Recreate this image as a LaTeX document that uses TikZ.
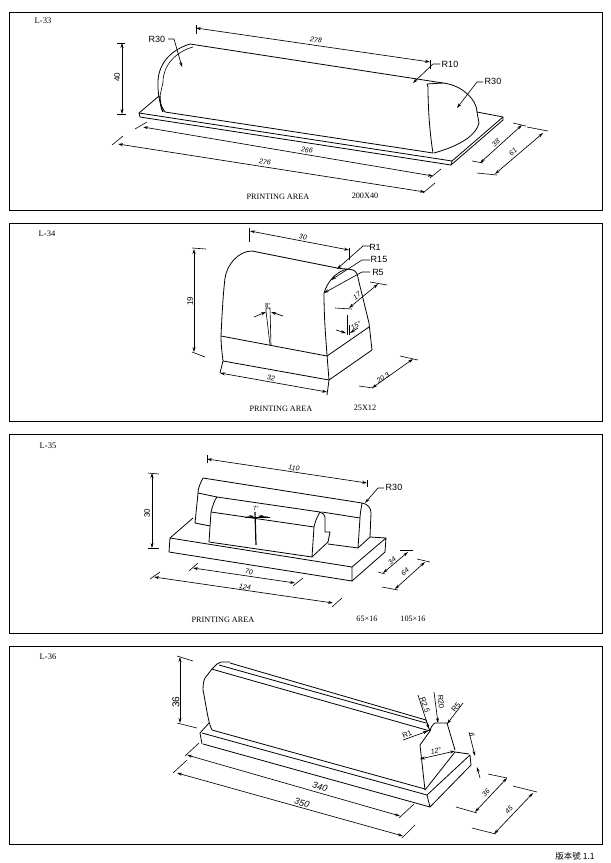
\documentclass[tikz,border=0pt]{standalone}
\usepackage{fontspec}
\setmainfont{Liberation Sans}
\newfontfamily\serifcad{Liberation Serif}
\newfontfamily\cjkfont{Noto Sans CJK TC}
\usetikzlibrary{arrows.meta}
\tikzset{
  part/.style={line width=0.8pt,line join=round},
  thin part/.style={line width=0.6pt},
  dimline/.style={line width=0.65pt,{Stealth[length=5pt,width=3pt]}-{Stealth[length=5pt,width=3pt]}},
  leader/.style={line width=0.65pt,-{Stealth[length=5pt,width=3pt]}},
  tick/.style={line width=0.6pt},
  frame/.style={line width=0.8pt},
  rlabel/.style={inner sep=0pt,font=\fontsize{9}{9}\selectfont},
  smallr/.style={inner sep=0pt,font=\fontsize{7.5}{7.5}\selectfont},
  dimtext/.style={inner sep=0.5pt,font=\itshape\fontsize{7}{7}\selectfont},
  bigdim/.style={inner sep=0.5pt,font=\itshape\fontsize{9}{9}\selectfont},
  angletext/.style={inner sep=0pt,font=\fontsize{6}{6}\selectfont},
  vtext/.style={inner sep=0.5pt,font=\fontsize{8}{8}\selectfont},
  caption/.style={inner sep=0pt,font=\serifcad\fontsize{8.2}{8.2}\selectfont},
  panel/.style={inner sep=0pt,font=\serifcad\fontsize{8.5}{8.5}\selectfont}
}
\begin{document}
\begin{tikzpicture}[x=1pt,y=-1pt]
\useasboundingbox[fill=white] (0,0) rectangle (611,863);
% frames
\draw[frame] (9,12) rectangle (602,210);
\draw[frame] (9,223) rectangle (602,421);
\draw[frame] (9,434) rectangle (602,633);
\draw[frame] (9,646) rectangle (602,844);
\node[panel] (p1) at (43,21) {L-33};
\node[panel] (p2) at (47,234) {L-34};
\node[panel] (p3) at (48,446) {L-35};
\node[panel] (p4) at (48,657) {L-36};

%% ---------- L-33 ----------
\draw[part] (190,44) -- (443,83);
\draw[part] (190,44) .. controls (170,50) and (157,65) .. (158,85) .. controls (158,97) and (160,105) .. (165,112);
\draw[thin part] (193,47) .. controls (175,52) and (163,66) .. (163,82) -- (160,96);
\draw[line width=1.2pt] (160,96) .. controls (160,103) and (161,108) .. (163,112);
\draw[part] (165,112) -- (433,153);
\draw[part] (139,113) -- (452,161);
\draw[part] (140,117) -- (451,165);
\draw[part] (139,113) -- (140,117);
\draw[part] (139,113) -- (159,96);
\draw[part] (452,161) -- (451,165);
\draw[part] (452,161) -- (503,117) -- (503,120) -- (451,165);
\draw[part] (477,112) -- (503,117);
\draw[part] (427,84) -- (428,87) .. controls (428,110) and (430,135) .. (433,153);
\draw[part] (427,84) -- (443,83) .. controls (462,85) and (477,100) .. (477,112) -- (479,123) .. controls (475,138) and (455,147) .. (434,153);
% dims
\draw[dimline] (196,28) -- (430,62);
\draw[tick] (196,25) -- (196,34);
\draw[tick] (430,60) -- (430,69);
\node[dimtext,rotate=-8] (d278) at (316,40) {278};
\draw[leader] (440,64) -- (433,64) -- (413,83);
\node[rlabel] (r10) at (450,64) {R10};
\draw[leader] (483,82) -- (477,82) -- (457,108);
\node[rlabel] (r30b) at (493,81) {R30};
\draw[leader] (168,39) -- (174,39) -- (182,67);
\node[rlabel] (r30a) at (157,39) {R30};
\draw[dimline] (122,43) -- (122,114);
\draw[tick] (117,43) -- (125,43);
\draw[tick] (117,114) -- (126,114);
\node[vtext,rotate=90] (d40) at (117,77) {40};
\draw[dimline] (143,127) -- (433,176);
\draw[tick] (135,129) -- (147,122);
\draw[tick] (430,178) -- (441,169);
\node[dimtext,rotate=-9] (d266) at (307,150) {266};
\draw[dimline] (118,144) -- (425,192);
\draw[tick] (112,145) -- (123,136);
\draw[tick] (423,193) -- (435,183);
\node[dimtext,rotate=-9] (d276) at (265,162) {276};
\draw[dimline] (522,125) -- (480,163);
\draw[tick] (513,123) -- (526,126);
\draw[tick] (472,161) -- (483,163);
\node[dimtext,rotate=42] (d38) at (496,143) {38};
\draw[dimline] (543,133) -- (495,174);
\draw[tick] (527,127) -- (548,131);
\draw[tick] (477,173) -- (497,175);
\node[dimtext,rotate=42] (d61) at (513,152) {61};
\node[caption] (c1) at (278,197) {PRINTING AREA};
\node[caption] (c1b) at (365,196) {200X40};

%% ---------- L-34 ----------
\draw[part] (221,336) .. controls (222,315) and (223,295) .. (225,278) .. controls (227,265) and (238,251) .. (252,251) -- (337,268);
\draw[part] (221,336) .. controls (221,345) and (222,352) .. (223,361) -- (220,373);
\draw[part] (337,268) .. controls (343,269) and (350,269) .. (353,270) .. controls (356,271) and (358,275) .. (358,278) -- (369,323) -- (372,350);
\draw[part] (324,293) .. controls (327,283) and (335,272) .. (347,269);
\draw[part] (324,293) .. controls (324,320) and (326,340) .. (327,355) -- (329,380) -- (327,395);
\draw[part] (221,336) -- (327,356) -- (369,327);
\draw[part] (223,361) -- (329,380) -- (372,350);
\draw[thin part] (266,311) -- (266,308) -- (270,308) -- (271,345);
\draw[thin part] (266,311) -- (270,345);
\node[angletext] (a8) at (268,305) {8°};
\draw[leader] (254,317) -- (266,312);
\draw[leader] (283,316) -- (271,312);
\draw[dimline] (250,231) -- (349,250);
\draw[tick] (249,228) -- (249,242);
\draw[tick] (349,248) -- (349,260);
\node[dimtext,rotate=-11] (d30) at (303,237) {30};
\draw[leader] (370,246) -- (363,246) -- (337,269);
\node[rlabel] (r1) at (375,247) {R1};
\draw[leader] (370,260) -- (362,260) -- (331,280);
\node[rlabel] (r15) at (379,259) {R15};
\draw[leader] (370,272) -- (362,272) -- (324,293);
\node[rlabel] (r5) at (378,272) {R5};
\draw[dimline] (378,284) -- (349,308);
\draw[tick] (370,282) -- (387,285);
\draw[tick] (335,308) -- (352,309);
\node[dimtext,rotate=38] (d17) at (357,296) {17};
\draw[thin part] (347,315) -- (347,335);
\draw[thin part] (349,325) -- (349,335);
\draw[leader] (336,330) -- (346,333);
\draw[leader] (358,328) -- (350,333);
\node[dimtext,rotate=30] (a15) at (356,326) {15°};
\draw[dimline] (194,249) -- (194,352);
\draw[tick] (192,248) -- (206,249);
\draw[tick] (192,352) -- (205,357);
\node[vtext,rotate=90] (d19) at (190,301) {19};
\draw[dimline] (220,373) -- (327,392);
\node[dimtext,rotate=-10] (d32) at (271,378) {32};
\draw[dimline] (413,359) -- (372,388);
\draw[tick] (400,356) -- (418,360);
\draw[tick] (359,386) -- (373,388);
\node[dimtext,rotate=36] (d203) at (383,378) {20.3};
\node[caption] (c2) at (281,409) {PRINTING AREA};
\node[caption] (c2b) at (365,408) {25X12};

%% ---------- L-35 ----------
% base
\draw[part] (170,538) -- (352,567) -- (352,581) -- (169,552) -- cycle;
\draw[part] (170,538) -- (193,518);
\draw[part] (352,567) -- (386,538) -- (385,552) -- (352,581);
\draw[part] (386,538) -- (370,537);
% rear block
\draw[part] (203,478) -- (362,503);
\draw[part] (203,478) .. controls (200,484) and (198,488) .. (198,493) -- (195,523) -- (210,526);
\draw[part] (198,493) -- (217,497);
\draw[part] (322,512) -- (360,518);
\draw[part] (362,503) .. controls (368,504) and (371,508) .. (371,513) -- (370,537) -- (358,548) -- (328,544);
\draw[part] (362,503) .. controls (361,510) and (360,514) .. (360,518) -- (358,548);
% front block
\draw[part] (217,497) -- (320,512);
\draw[part] (217,497) .. controls (214,501) and (213,505) .. (211,512) -- (209,542);
\draw[part] (211,512) -- (314,527);
\draw[part] (209,542) -- (312,557);
\draw[part] (320,512) .. controls (323,513) and (325,515) .. (325,517) -- (325,532) -- (330,532) -- (328,542) -- (312,557);
\draw[part] (320,512) .. controls (317,517) and (315,522) .. (314,527) -- (312,557);
% arrow
\draw[line width=1.2pt] (255,512) -- (256,545);
\draw[leader] (247,517) -- (254,516);
\draw[leader] (268,517) -- (258,516);
\draw[tick] (245,517) -- (270,517);
\node[angletext] (a7) at (256,508) {7°};
% dims
\draw[dimline] (207,459) -- (367,483);
\draw[tick] (207,455) -- (207,463);
\draw[tick] (367,480) -- (367,487);
\node[dimtext,rotate=-8] (d110) at (294,468) {110};
\draw[leader] (384,488) -- (378,488) -- (365,503);
\node[rlabel] (r30c) at (394,487) {R30};
\draw[dimline] (152,473) -- (152,548);
\draw[tick] (148,473) -- (159,474);
\draw[tick] (148,548) -- (159,548);
\node[vtext,rotate=90] (d30b) at (147,513) {30};
\draw[dimline] (154,577) -- (333,603);
\draw[tick] (150,579) -- (160,572);
\draw[tick] (332,607) -- (342,598);
\node[dimtext,rotate=-8] (d124) at (245,587) {124};
\draw[dimline] (193,568) -- (295,583);
\draw[tick] (189,571) -- (198,563);
\draw[tick] (293,586) -- (303,578);
\node[dimtext,rotate=-8] (d70) at (249,572) {70};
\draw[dimline] (408,552) -- (383,573);
\draw[tick] (400,550) -- (413,550);
\draw[tick] (378,572) -- (385,574);
\node[dimtext,rotate=40] (d34) at (392,561) {34};
\draw[dimline] (425,562) -- (395,589);
\draw[tick] (417,559) -- (430,562);
\draw[tick] (382,587) -- (398,590);
\node[dimtext,rotate=40] (d64) at (405,572) {64};
\node[caption] (c3) at (223,620) {PRINTING AREA};
\node[caption] (c3b) at (367,619) {65×16};
\node[caption] (c3c) at (413,619) {105×16};

%% ---------- L-36 ----------
\draw[part] (212,730) .. controls (208,722) and (207,710) .. (203,690) .. controls (203,683) and (204,680) .. (205,678) -- (212,669) -- (215,670);
\draw[part] (212,669) -- (217,664) -- (221,662) -- (230,662);
\draw[part] (230,663) -- (426,720);
\draw[part] (219,665) -- (426,723);
\draw[part] (215,670) -- (430,731);
\draw[part] (426,720) -- (430,731) -- (420,745) -- (425,790);
\draw[part] (430,731) .. controls (431,727) and (433,724) .. (435,723) -- (447,723) -- (455,750);
\draw[part] (212,730) -- (425,789);
\draw[part] (202,733) -- (427,795);
\draw[part] (203,744) -- (430,807);
\draw[part] (200,733) -- (202,744);
\draw[part] (200,733) -- (209,723);
\draw[part] (425,790) -- (455,752) -- (469,754);
\draw[part] (427,795) -- (470,755) -- (471,765) -- (430,807) -- (427,795);
% dims
\draw[dimline] (180,657) -- (180,723);
\draw[tick] (177,656) -- (193,661);
\draw[tick] (177,723) -- (197,728);
\node[vtext,rotate=90,font=\fontsize{10}{10}\selectfont] (d36) at (176,702) {36};
\draw[dimline] (187,755) -- (400,816);
\draw[tick] (185,756) -- (199,743);
\draw[tick] (399,818) -- (414,804);
\node[bigdim,rotate=-16] (d340) at (320,787) {340};
\draw[dimline] (177,773) -- (403,836);
\draw[tick] (173,773) -- (187,760);
\draw[tick] (402,838) -- (415,825);
\node[bigdim,rotate=-16] (d350) at (302,803) {350};
\draw[leader] (403,740) -- (428,731);
\node[smallr,rotate=22] (r1b) at (407,734) {R1};
\draw[leader] (418,695) -- (429,729);
\node[smallr,rotate=-70] (r25) at (425,705) {R2.5};
\draw[leader] (434,692) -- (438,723);
\node[smallr,rotate=-85] (r20) at (441,702) {R20};
\draw[leader] (463,703) -- (447,724);
\node[smallr,rotate=50] (r5b) at (456,707) {R5};
\draw[dimline] (420,759) -- (455,751);
\node[dimtext,rotate=12] (a12) at (436,751) {12°};
\draw[leader] (469,732) -- (475,756);
\draw[leader] (480,778) -- (477,767);
\node[dimtext,rotate=-75] (d6) at (472,735) {6};
\draw[dimline] (507,778) -- (475,812);
\draw[tick] (488,774) -- (507,778);
\draw[tick] (456,807) -- (477,813);
\node[dimtext,rotate=45] (d36b) at (486,793) {36};
\draw[dimline] (533,793) -- (494,834);
\draw[tick] (513,786) -- (537,792);
\draw[tick] (472,828) -- (496,834);
\node[dimtext,rotate=45] (d45) at (509,810) {45};
\node[inner sep=0pt,font=\cjkfont\fontsize{8.5}{8.5}\selectfont] (ver) at (575,856) {版本號 1.1};
\end{tikzpicture}
\end{document}
